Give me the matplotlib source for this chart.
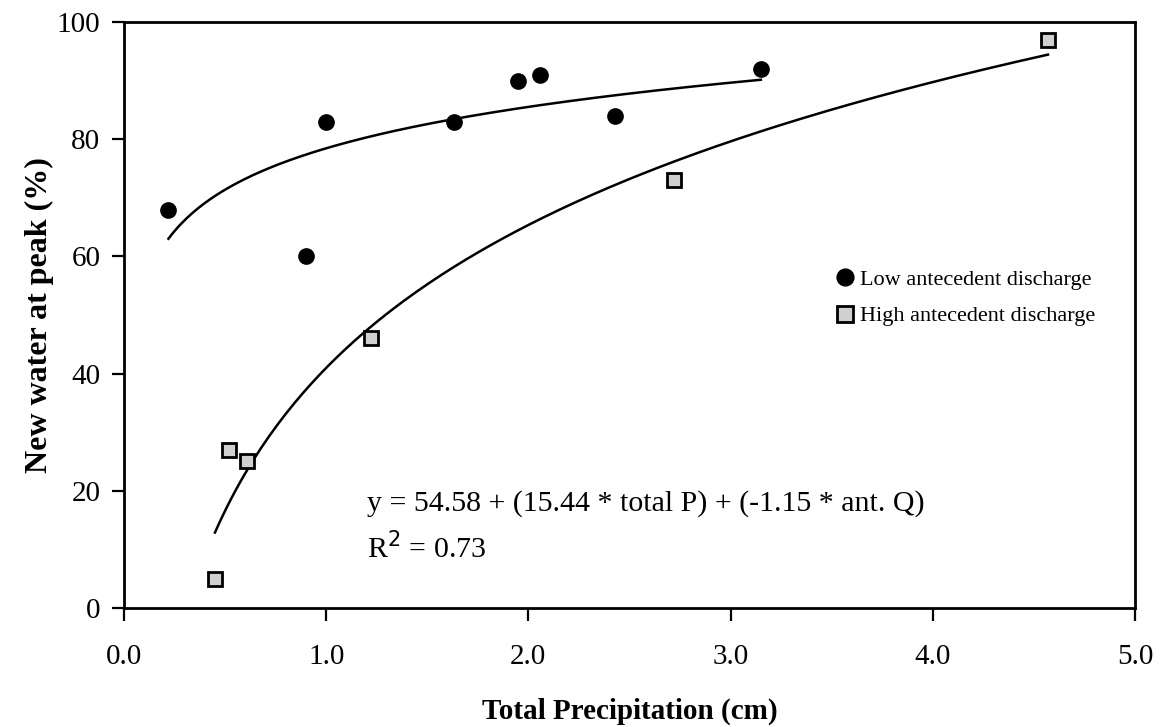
import numpy as np
import matplotlib.pyplot as plt

plt.rcParams['font.family'] = ['Liberation Serif', 'DejaVu Serif']

# storm events: total precipitation (cm) vs new water fraction at peak (%)
low_p = [0.22, 0.90, 1.00, 1.63, 1.95, 2.06, 2.43, 3.15]
low_new = [68, 60, 83, 83, 90, 91, 84, 92]
high_p = [0.45, 0.52, 0.61, 1.22, 2.72, 4.57]
high_new = [5, 27, 25, 46, 73, 97]

x_ticks = [0.0, 1.0, 2.0, 3.0, 4.0, 5.0]
y_ticks = [0, 20, 40, 60, 80, 100]


def log_fit(x, y):
    # logarithmic trendline y = a + b ln(x), drawn over the data range
    b, a = np.polyfit(np.log(x), y, 1)
    xs = np.linspace(min(x), max(x), 200)
    return xs, a + b * np.log(xs)


fig = plt.figure(figsize=(11.64, 7.27), dpi=100)
ax = fig.add_axes([0.1065, 0.1637, 0.8685, 0.806])

xs, ys = log_fit(low_p, low_new)
ax.plot(xs, ys, color='black', lw=1.8)
xs, ys = log_fit(high_p, high_new)
ax.plot(xs, ys, color='black', lw=1.8)

ax.plot(low_p, low_new, 'o', color='black', ms=11,
        label='Low antecedent discharge')
ax.plot(high_p, high_new, 's', mfc='#d0d0d0', mec='black', mew=2, ms=10,
        label='High antecedent discharge')

ax.set_xlim(0, 5)
ax.set_ylim(0, 100)
ax.set_xticks(x_ticks)
ax.set_xticklabels([f'{t:.1f}' for t in x_ticks])
ax.set_yticks(y_ticks)
ax.tick_params(axis='both', direction='out', length=9, width=1.6,
               labelsize=21, colors='black')
ax.tick_params(axis='x', pad=17)
ax.tick_params(axis='y', pad=8)
for s in ax.spines.values():
    s.set_linewidth(2)

ax.set_xlabel('Total Precipitation (cm)', fontsize=21, fontweight='bold',
              labelpad=20)
ax.set_ylabel('New water at peak (%)', fontsize=23, fontweight='bold',
              labelpad=2)

ax.text(1.2, 17.9, 'y = 54.58 + (15.44 * total P) + (-1.15 * ant. Q)',
        fontsize=21.5, va='center')
ax.text(1.2, 10.2, r'R$^2$ = 0.73', fontsize=21.5, va='center')

ax.legend(loc='upper left', bbox_to_anchor=(0.704, 0.578), frameon=False,
          fontsize=16, handletextpad=0.3, labelspacing=0.72,
          handlelength=0.8, markerscale=1.1, borderaxespad=0, borderpad=0)

fig.savefig('out.png', dpi=100)
